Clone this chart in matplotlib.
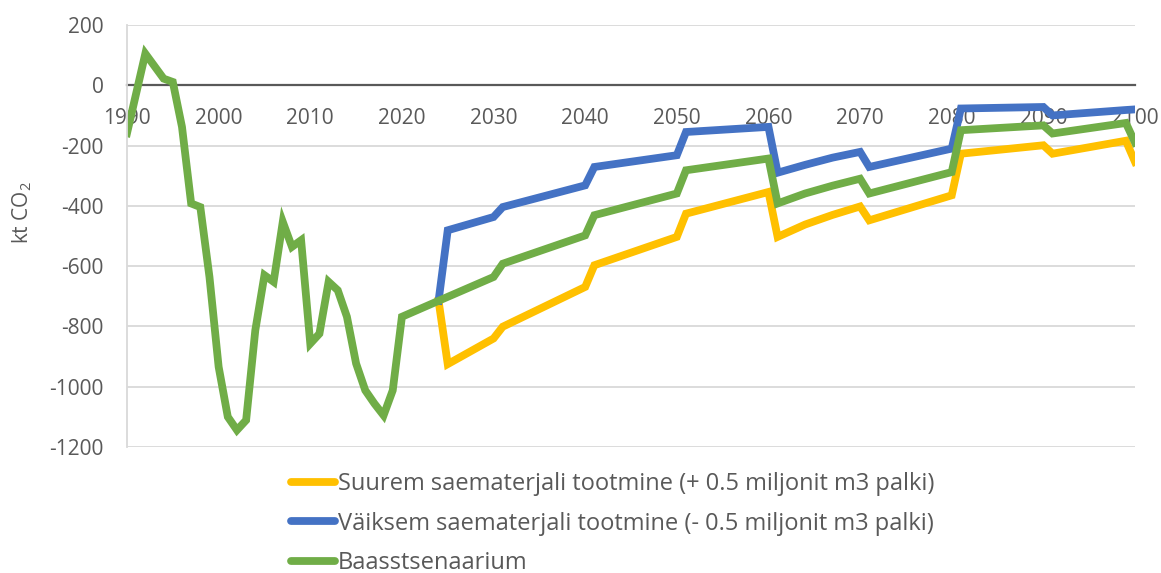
import matplotlib.pyplot as plt
from matplotlib.lines import Line2D

plt.rcParams['font.family'] = ['Open Sans', 'DejaVu Sans']
plt.rcParams['mathtext.fontset'] = 'custom'
plt.rcParams['mathtext.rm'] = 'Open Sans'
plt.rcParams['axes.unicode_minus'] = False

# baseline (green): history + projection
base_years = [1990, 1992, 1994, 1995, 1996, 1997, 1998, 1999, 2000, 2001, 2002,
              2003, 2004, 2005, 2006, 2007, 2008, 2009, 2010, 2011, 2012, 2013,
              2014, 2015, 2016, 2017, 2018, 2019, 2020, 2024, 2030, 2031, 2040,
              2041, 2050, 2051, 2060, 2061, 2064, 2067, 2070, 2071, 2080, 2081,
              2090, 2091, 2099, 2100]
base_vals = [-159, 105, 22, 11, -138, -392, -404, -636, -934, -1100, -1144,
             -1111, -813, -630, -652, -453, -536, -514, -857, -824, -652, -680,
             -768, -923, -1012, -1056, -1095, -1012, -768, -715, -636, -592, -498,
             -431, -359, -282, -243, -392, -359, -333, -310, -359, -288, -149,
             -133, -160, -125, -190]

# scenarios start where they split from the baseline
scen_years = [2024, 2025, 2030, 2031, 2040, 2041, 2050, 2051, 2060, 2061, 2064,
              2067, 2070, 2071, 2080, 2081, 2090, 2091, 2099, 2100]
more_vals = [-715, -925, -840, -801, -669, -597, -503, -426, -354, -503, -462,
             -430, -402, -448, -365, -227, -199, -227, -184, -254]
less_vals = [-715, -481, -437, -404, -332, -271, -232, -155, -138, -290, -264,
             -240, -221, -271, -210, -77, -72, -100, -82, -80]

labels = ['Suurem saematerjali tootmine (+ 0.5 miljonit m3 palki)',
          'Väiksem saematerjali tootmine (- 0.5 miljonit m3 palki)',
          'Baasstsenaarium']
colors = ['#FFC000', '#4472C4', '#70AD47']

fig = plt.figure(figsize=(11.61, 5.73), dpi=100)
ax = fig.add_axes([127 / 1161, 1 - 447 / 573, 1008 / 1161, 422 / 573])

lw = 5.6
ax.plot(scen_years, more_vals, color=colors[0], lw=lw, solid_joinstyle='miter')
ax.plot(scen_years, less_vals, color=colors[1], lw=lw, solid_joinstyle='miter')
ax.plot(base_years, base_vals, color=colors[2], lw=lw, solid_joinstyle='miter')

ax.set_xlim(1990, 2100)
ax.set_ylim(-1200, 200)
ax.set_yticks(range(-1200, 201, 200))
ax.set_xticks(range(1990, 2101, 10))
ax.grid(axis='y', color='#d9d9d9', lw=1.3)
ax.set_axisbelow(True)

for s in ['top', 'right']:
    ax.spines[s].set_visible(False)
ax.spines['left'].set_color('#d9d9d9')
ax.spines['left'].set_linewidth(1.3)
ax.spines['bottom'].set_position(('data', 0))
ax.spines['bottom'].set_color('#595959')
ax.spines['bottom'].set_linewidth(1.6)
ax.spines['bottom'].set_zorder(1.6)

ax.tick_params(axis='x', length=0, pad=16, labelsize=15, labelcolor='#595959')
ax.tick_params(axis='y', length=0, pad=17, labelsize=15, labelcolor='#595959')

fig.text(22 / 1161, 1 - 212 / 573, r'kt CO$_\mathregular{2}$', rotation=90,
         ha='center', va='center', fontsize=15, color='#595959')

handles = [Line2D([], [], color=c, lw=lw, solid_capstyle='round') for c in colors]
fig.legend(handles, labels, loc='upper left',
           bbox_to_anchor=(291 / 1161, 1 - 472 / 573), frameon=False,
           fontsize=17, labelcolor='#595959', handlelength=1.85,
           handletextpad=0.15, labelspacing=0.66, borderpad=0, borderaxespad=0)

fig.savefig('out.png', dpi=100)
